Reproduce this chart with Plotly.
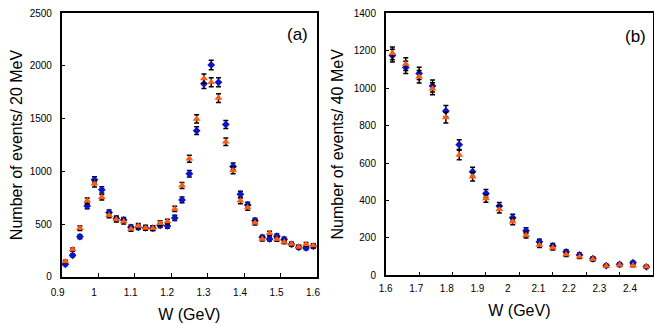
import plotly.graph_objects as go

# panel (a): 20 MeV bins
w_a = [0.91, 0.93, 0.95, 0.97, 0.99, 1.01, 1.03, 1.05, 1.07, 1.09, 1.11, 1.13,
       1.15, 1.17, 1.19, 1.21, 1.23, 1.25, 1.27, 1.29, 1.31, 1.33, 1.35, 1.37,
       1.39, 1.41, 1.43, 1.45, 1.47, 1.49, 1.51, 1.53, 1.55, 1.57, 1.59]
blue_a = [117, 203, 380, 672, 919, 824, 609, 552, 539, 469, 469, 463,
          460, 488, 482, 558, 729, 976, 1386, 1830, 2010, 1845, 1445, 1046,
          783, 681, 532, 374, 358, 384, 355, 307, 279, 273, 288]
blue_a_err = [11, 14, 19, 26, 30, 29, 25, 23, 23, 22, 22, 22,
              21, 22, 22, 24, 27, 31, 37, 43, 45, 43, 38, 32,
              28, 26, 23, 19, 19, 20, 19, 18, 17, 17, 17]
orange_a = [143, 257, 460, 720, 881, 754, 583, 542, 523, 453, 482, 463,
            460, 507, 523, 643, 865, 1119, 1497, 1880, 1845, 1695, 1281, 1008,
            720, 656, 513, 358, 412, 355, 330, 310, 282, 307, 295]
orange_a_err = [12, 16, 21, 27, 30, 27, 24, 23, 23, 21, 22, 22,
                21, 23, 23, 25, 29, 33, 39, 43, 43, 41, 36, 32,
                27, 26, 23, 19, 20, 19, 18, 18, 17, 18, 17]

# panel (b): 40 MeV bins
w_b = [1.62, 1.66, 1.70, 1.74, 1.78, 1.82, 1.86, 1.90, 1.94, 1.98,
       2.02, 2.06, 2.10, 2.14, 2.18, 2.22, 2.26, 2.30, 2.34, 2.38]
blue_b = [1174, 1111, 1079, 1012, 878, 698, 554, 438, 370, 308,
          239, 180, 157, 126, 109, 89, 52, 59, 68, 46]
blue_b_err = [34, 33, 33, 32, 30, 26, 24, 21, 19, 18,
              15, 13, 13, 11, 10, 9, 7, 8, 8, 7]
orange_b = [1186, 1129, 1061, 997, 843, 643, 527, 411, 352, 287,
            215, 162, 148, 112, 100, 86, 50, 55, 53, 46]
orange_b_err = [34, 34, 33, 32, 29, 25, 23, 20, 19, 17,
                15, 13, 12, 11, 10, 9, 7, 7, 7, 7]

ticks_a = [0.9, 1.0, 1.1, 1.2, 1.3, 1.4, 1.5, 1.6]
ticks_b = [1.6, 1.7, 1.8, 1.9, 2.0, 2.1, 2.2, 2.3, 2.4]

blue = "#0a14c8"
orange = "#ff5a14"


def err(vals):
    return dict(type="data", array=vals, color="black", thickness=1.5, width=2.5)


fig = go.Figure()

fig.add_trace(go.Scatter(x=w_a, y=blue_a, mode="markers", error_y=err(blue_a_err),
                         marker=dict(symbol="diamond", size=6, color=blue),
                         xaxis="x", yaxis="y", showlegend=False))
fig.add_trace(go.Scatter(x=w_a, y=orange_a, mode="markers", error_y=err(orange_a_err),
                         marker=dict(symbol="triangle-up", size=7, color=orange),
                         xaxis="x", yaxis="y", showlegend=False))
fig.add_trace(go.Scatter(x=w_b, y=blue_b, mode="markers", error_y=err(blue_b_err),
                         marker=dict(symbol="diamond", size=6, color=blue),
                         xaxis="x2", yaxis="y2", showlegend=False))
fig.add_trace(go.Scatter(x=w_b, y=orange_b, mode="markers", error_y=err(orange_b_err),
                         marker=dict(symbol="triangle-up", size=7, color=orange),
                         xaxis="x2", yaxis="y2", showlegend=False))
# invisible helper so the label axis of panel (b) gets drawn
fig.add_trace(go.Scatter(x=w_b, y=blue_b, mode="markers", marker=dict(opacity=0),
                         hoverinfo="skip", xaxis="x3", yaxis="y2", showlegend=False))

tick_font = dict(family="Liberation Sans, Arial", size=10, color="black")
axis_style = dict(showline=True, linecolor="black", linewidth=1.5, mirror=True,
                  ticks="inside", ticklen=4, tickwidth=1.2, tickcolor="black",
                  showgrid=False, zeroline=False, automargin=False,
                  ticklabeloverflow="allow", tickfont=tick_font)

fig.update_layout(
    width=654, height=324,
    margin=dict(l=0, r=0, t=0, b=0),
    paper_bgcolor="white", plot_bgcolor="white",
    font=dict(family="Liberation Sans, Arial", color="black"),
    xaxis=dict(axis_style, domain=[0.0943, 0.4847], range=[0.9, 1.6],
               tickvals=ticks_a, ticklabelstandoff=6, ticklabelshift=-4,
               title=dict(text="W (GeV)", font=dict(size=16), standoff=11),
               anchor="y"),
    yaxis=dict(axis_style, domain=[0.146, 0.959], range=[0, 2500],
               tickvals=[0, 500, 1000, 1500, 2000, 2500],
               ticklabelstandoff=6,
               title=dict(text="Number of events/ 20 MeV", font=dict(size=16), standoff=3),
               anchor="x"),
    xaxis2=dict(axis_style, domain=[0.5898, 0.9985], range=[1.6, 2.4],
                tickvals=ticks_b, showticklabels=False,
                anchor="y2"),
    # the tick labels of panel (b) sit on a slightly compressed scale in the original
    xaxis3=dict(overlaying="x2", anchor="y2", side="bottom", range=[1.6, 2.4754],
                tickvals=ticks_b, ticks="", showline=False, showgrid=False,
                zeroline=False, automargin=False, ticklabeloverflow="allow",
                tickfont=tick_font, ticklabelstandoff=6,
                title=dict(text="W (GeV)", font=dict(size=16), standoff=11)),
    yaxis2=dict(axis_style, domain=[0.15, 0.959], range=[0, 1400],
                tickvals=[0, 200, 400, 600, 800, 1000, 1200, 1400],
                ticklabelstandoff=6,
                title=dict(text="Number of events/ 40 MeV", font=dict(size=16), standoff=6),
                anchor="x2"),
    annotations=[
        dict(text="(a)", x=0.922, y=0.918, xref="x domain", yref="y domain",
             xanchor="center", yanchor="middle", showarrow=False, font=dict(size=17)),
        dict(text="(b)", x=0.933, y=0.91, xref="x2 domain", yref="y2 domain",
             xanchor="center", yanchor="middle", showarrow=False, font=dict(size=17)),
    ],
)

# drop the default 8px body margin so the figure sits at the page corner
fig.write_html("out.html", config={"displayModeBar": False},
               post_script="document.body.style.margin='0';")
